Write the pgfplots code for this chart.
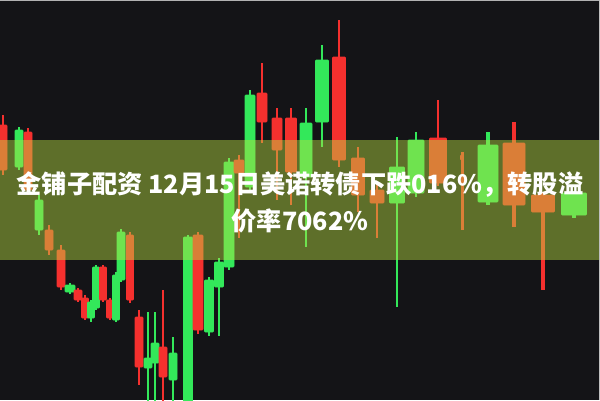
\documentclass[border=0pt]{standalone}
\usepackage{pgfplots}
\pgfplotsset{compat=1.18}
\usepackage{fontspec}
\newfontfamily\cjk{Noto Sans CJK SC}
\definecolor{bgc}{RGB}{20,20,23}
\definecolor{bandc}{RGB}{186,223,67}
\definecolor{cg}{RGB}{51,232,90}
\definecolor{cr}{RGB}{245,48,46}
% \candle{xl}{xc}{xr}{bodytop}{bodybot}{wicktop}{wickbot}{color}{wickwidth}
\newcommand{\candle}[9]{%
  \addplot[draw=#8, line width=#9] coordinates {(#2,#6) (#2,#7)};
  \addplot[fill=#8, draw=#8, line width=0.6pt, rounded corners=0.8pt] coordinates {(#1,#4) (#3,#4) (#3,#5) (#1,#5)} --cycle;
}
\begin{document}
\begin{tikzpicture}
\begin{axis}[
  width=600bp, height=400bp, scale only axis,
  xmin=0, xmax=600, ymin=0, ymax=400, y dir=reverse,
  hide axis, clip=true,
]
\addplot[fill=bgc, draw=none] coordinates {(0,0) (600,0) (600,400) (0,400)} --cycle;
\candle{-1}{3}{7}{125}{170}{115}{175}{cr}{1.4pt}
\candle{15}{19}{23}{130}{167}{127}{170}{cg}{1.4pt}
\candle{24}{28}{32}{132}{190}{128}{195}{cr}{1.4pt}
\candle{35}{39}{43}{200}{230}{195}{235}{cg}{1.4pt}
\candle{45}{49}{53}{230}{250}{225}{255}{cr}{1.4pt}
\candle{57}{61}{65}{250}{287}{245}{290}{cr}{1.4pt}
\candle{65}{70}{75}{285}{292}{283}{294}{cg}{1.4pt}
\candle{74}{78}{82}{290}{300}{288}{302}{cr}{1.4pt}
\candle{81.5}{85}{88.5}{298}{318}{295}{320}{cr}{1.4pt}
\candle{87.5}{91}{94.5}{302}{318}{300}{322}{cg}{1.4pt}
\candle{92.5}{96}{99.5}{267}{308}{265}{310}{cg}{1.4pt}
\candle{99.5}{103}{106.5}{267}{300}{265}{302}{cr}{1.4pt}
\candle{106.5}{110}{113.5}{300}{318}{298}{320}{cr}{1.4pt}
\candle{112.5}{116}{119.5}{275}{320}{272}{322}{cg}{1.4pt}
\candle{117}{121}{125}{232}{280}{229}{282}{cg}{1.4pt}
\candle{126.5}{130}{133.5}{235}{300}{232}{303}{cr}{1.4pt}
\candle{135}{139}{143}{317}{367}{310}{385}{cr}{1.4pt}
\candle{144}{148}{152}{358}{368}{312}{402}{cg}{1.4pt}
\candle{151}{155}{159}{343}{363}{312}{402}{cg}{1.4pt}
\candle{159}{163}{167}{347}{377}{290}{402}{cr}{1.4pt}
\candle{169}{173}{177}{353}{380}{337}{402}{cg}{1.4pt}
\candle{183.5}{188}{192.5}{237}{402}{235}{402}{cg}{1.6pt}
\candle{193}{198}{203}{235}{330}{232}{334}{cr}{1.6pt}
\candle{204.5}{209}{213.5}{280}{332}{277}{336}{cg}{1.6pt}
\candle{214.5}{219}{223.5}{262}{287}{258}{336}{cg}{1.6pt}
\candle{224}{229}{234}{162}{267}{158}{270}{cg}{1.8pt}
\candle{234}{239}{244}{160}{173}{155}{238}{cr}{1.8pt}
\candle{245}{250}{255}{95}{187}{90}{192}{cg}{1.8pt}
\candle{257}{262}{267}{93}{122}{63}{143}{cr}{1.8pt}
\candle{272}{277}{282}{118}{150}{108}{200}{cr}{1.8pt}
\candle{285.5}{291}{296.5}{118}{172}{108}{205}{cr}{2pt}
\candle{300}{306}{312}{123}{177}{108}{247}{cg}{2pt}
\candle{315.5}{322}{328.5}{60}{122}{45}{147}{cg}{2.2pt}
\candle{332.5}{339}{345.5}{57}{160}{20}{167}{cr}{2.2pt}
\candle{351.5}{358}{364.5}{158}{195}{147}{212}{cr}{2.4pt}
\candle{370}{377}{384}{190}{203}{182}{238}{cr}{2.4pt}
\candle{389.5}{397}{404.5}{167}{203}{137}{307}{cg}{2.6pt}
\candle{408}{416}{424}{140}{193}{132}{197}{cg}{2.6pt}
\candle{429.5}{438}{446.5}{138}{183}{100}{186}{cr}{2.8pt}
\candle{460.5}{462}{463.5}{155}{160}{152}{230}{cr}{3pt}
\candle{478}{488}{498}{145}{202}{132}{205}{cg}{3.2pt}
\candle{503}{514}{525}{143}{205}{122}{227}{cr}{3.4pt}
\candle{531.5}{543}{554.5}{195}{212}{192}{290}{cr}{3.6pt}
\candle{561.5}{574}{586.5}{193}{215}{191}{218}{cg}{3.8pt}
\addplot[fill=bandc, fill opacity=0.45, draw=none] coordinates {(0,140) (600,140) (600,260) (0,260)} --cycle;
\addplot[draw=gray!60, line width=1pt] coordinates {(0,0.5) (600,0.5)};
\addplot[draw=gray!50, line width=1pt] coordinates {(599.5,0) (599.5,400)};
\node[text=white, align=center, font={\cjk\bfseries\fontsize{25.2bp}{37bp}\selectfont}, inner sep=0pt] at (axis cs:300,202) {金铺子配资 12月15日美诺转债下跌016\%，转股溢\\价率7062\%};
\end{axis}
\end{tikzpicture}
\end{document}
